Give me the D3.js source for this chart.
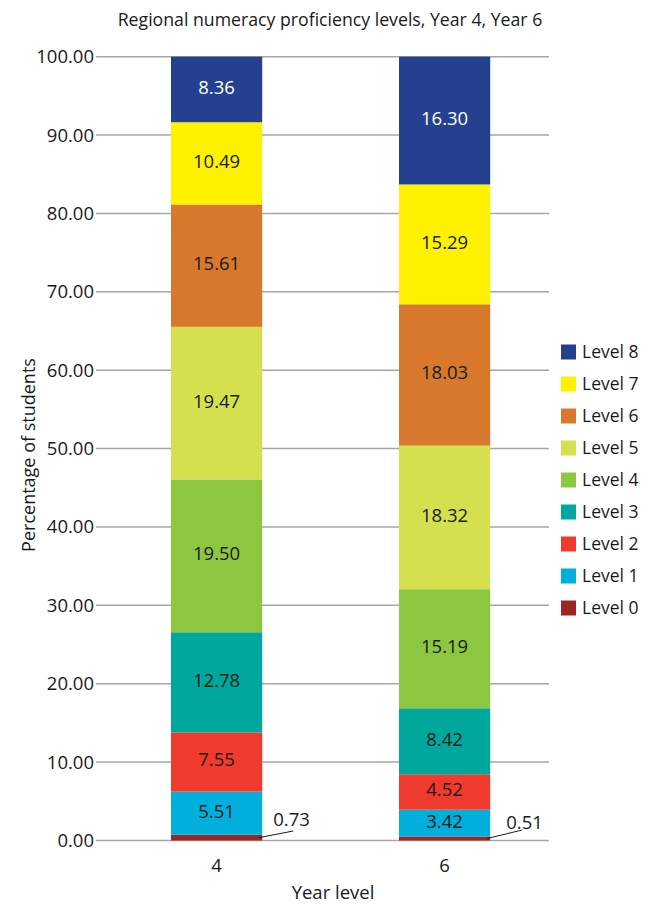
<!DOCTYPE html>
<html>
<head>
<meta charset="utf-8">
<script src="https://cdn.jsdelivr.net/npm/d3@7"></script>
<style>
  html, body { margin: 0; padding: 0; background: #fff; }
  svg text { font-family: "Open Sans", "DejaVu Sans", sans-serif; fill: #1a1a1a; }
</style>
</head>
<body>
<svg id="chart" width="655" height="904"></svg>
<script>
const title = "Regional numeracy proficiency levels, Year 4, Year 6";
const categories = ["4", "6"];
const levels = ["Level 0", "Level 1", "Level 2", "Level 3", "Level 4", "Level 5", "Level 6", "Level 7", "Level 8"];
const year4 = [0.73, 5.51, 7.55, 12.78, 19.50, 19.47, 15.61, 10.49, 8.36];
const year6 = [0.51, 3.42, 4.52, 8.42, 15.19, 18.32, 18.03, 15.29, 16.30];
const colors = ["#9c2624", "#00afdb", "#ef3a2d", "#00a79d", "#8dc63f", "#d5e04f", "#d7782d", "#fff200", "#25408f"];
const yTicks = [0, 10, 20, 30, 40, 50, 60, 70, 80, 90, 100];
const xTitle = "Year level";
const yTitle = "Percentage of students";

const svg = d3.select("#chart");

const y = d3.scaleLinear().domain([0, 100]).range([840.5, 56.7]);
const x = d3.scaleBand().domain(categories).range([102.6, 558.6]).paddingInner(0.6).paddingOuter(0.3);
const gridX0 = 96, gridX1 = 549;
const fs = 18.5;

// gridlines
svg.append("g").selectAll("line").data(yTicks).join("line")
  .attr("x1", gridX0).attr("x2", gridX1)
  .attr("y1", d => y(d)).attr("y2", d => y(d))
  .attr("stroke", "#a6a6a6").attr("stroke-width", 1.5);

// y tick labels
svg.append("g").selectAll("text").data(yTicks).join("text")
  .attr("x", 94).attr("y", d => y(d)).attr("dy", "0.35em")
  .attr("text-anchor", "end").attr("font-size", fs)
  .text(d => d3.format(".2f")(d));

// stacked data
const series = [year4, year6];
const table = categories.map((c, i) => {
  const o = { cat: c };
  levels.forEach((l, j) => o[l] = series[i][j]);
  return o;
});
const stack = d3.stack().keys(levels)(table);

const gBars = svg.append("g");
stack.forEach((layer, li) => {
  gBars.append("g").attr("fill", colors[li]).selectAll("rect").data(layer).join("rect")
    .attr("x", d => x(d.data.cat))
    .attr("width", x.bandwidth())
    .attr("y", d => y(d[1]))
    .attr("height", d => y(d[0]) - y(d[1]));
});

// value labels
const gLab = svg.append("g");
stack.forEach((layer, li) => {
  layer.forEach(d => {
    const val = d.data[levels[li]];
    if (li === 0) {
      const bx = x(d.data.cat) + x.bandwidth();
      const yb = y((d[0] + d[1]) / 2);
      const isFirst = d.data.cat === categories[0];
      const ex = bx + (isFirst ? 31 : 32);
      const ey = isFirst ? 831 : 830;
      gLab.append("line")
        .attr("x1", bx - 3).attr("y1", yb)
        .attr("x2", ex).attr("y2", ey)
        .attr("stroke", "#1a1a1a").attr("stroke-width", 1);
      gLab.append("text")
        .attr("x", isFirst ? bx + 11 : bx + 16)
        .attr("y", isFirst ? 820 : 823).attr("dy", "0.35em")
        .attr("font-size", fs)
        .text(d3.format(".2f")(val));
    } else {
      gLab.append("text")
        .attr("x", x(d.data.cat) + x.bandwidth() / 2)
        .attr("y", y((d[0] + d[1]) / 2) - 2).attr("dy", "0.35em")
        .attr("text-anchor", "middle").attr("font-size", fs)
        .style("fill", li === 8 ? "#ffffff" : "#1a1a1a")
        .text(d3.format(".2f")(val));
    }
  });
});

// x axis labels
svg.append("g").selectAll("text").data(categories).join("text")
  .attr("x", d => x(d) + x.bandwidth() / 2).attr("y", 866).attr("dy", "0.35em")
  .attr("text-anchor", "middle").attr("font-size", fs)
  .text(d => d);

// axis titles
svg.append("text").attr("x", 333).attr("y", 893).attr("dy", "0.35em")
  .attr("text-anchor", "middle").attr("font-size", fs).text(xTitle);
svg.append("text").attr("transform", "translate(29,455) rotate(-90)")
  .attr("dy", "0.35em").attr("text-anchor", "middle").attr("font-size", 18).text(yTitle);

// title
svg.append("text").attr("x", 330).attr("y", 20).attr("dy", "0.35em")
  .attr("text-anchor", "middle").attr("font-size", 17.7).text(title);

// legend (Level 8 at top)
const legendOrder = levels.map((l, i) => i).reverse();
const gLeg = svg.append("g");
legendOrder.forEach((li, k) => {
  const cy = 352 + k * 32;
  gLeg.append("rect").attr("x", 561).attr("y", cy - 7.5).attr("width", 15).attr("height", 15).attr("fill", colors[li]);
  gLeg.append("text").attr("x", 582).attr("y", cy).attr("dy", "0.35em").attr("font-size", 17.5).text(levels[li]);
});
</script>
</body>
</html>
